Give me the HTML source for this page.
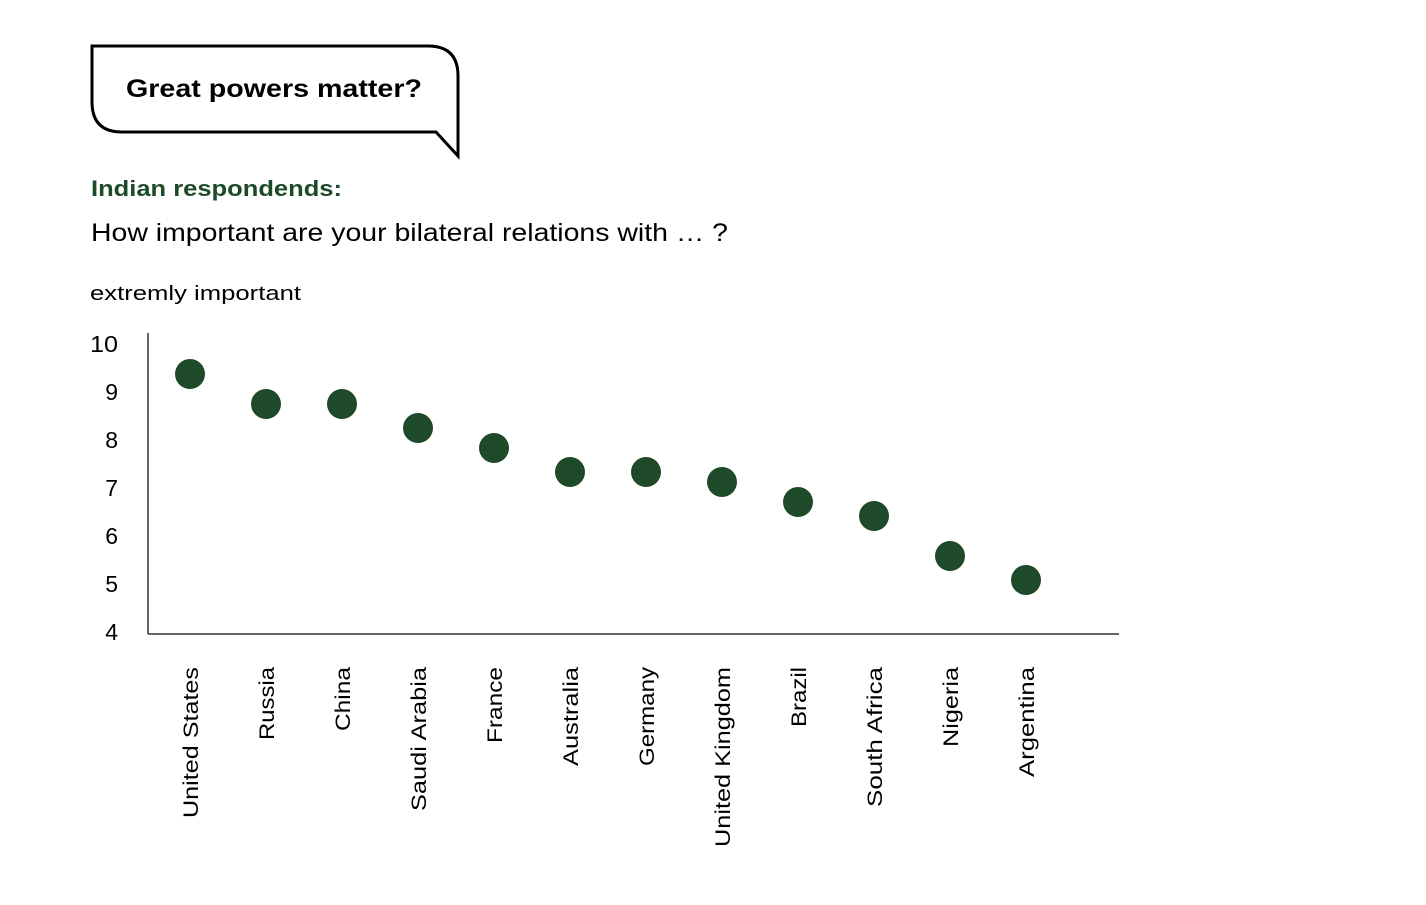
<!DOCTYPE html>
<html><head><style>
body{margin:0;background:#fff;}
svg text{font-family:"Liberation Sans",sans-serif;}
</style></head><body>
<svg width="1426" height="900" xmlns="http://www.w3.org/2000/svg">
<path d="M92,46 L428,46 Q458,46 458,76 L458,156 L436,132 L122,132 Q92,132 92,102 Z" fill="#fff" stroke="#000" stroke-width="3"/>
<text x="126" y="97" font-size="25" font-weight="bold" textLength="296" lengthAdjust="spacingAndGlyphs">Great powers matter?</text>
<text x="91" y="196" font-size="22" font-weight="bold" fill="#1e4a2a" textLength="251" lengthAdjust="spacingAndGlyphs">Indian respondends:</text>
<text x="91" y="241" font-size="25" textLength="637" lengthAdjust="spacingAndGlyphs">How important are your bilateral relations with … ?</text>
<text x="90" y="300" font-size="20" textLength="211" lengthAdjust="spacingAndGlyphs">extremly important</text>
<g stroke="#333" stroke-width="1.5"><line x1="148" y1="333" x2="148" y2="634"/><line x1="148" y1="634" x2="1119" y2="634"/></g>
<g font-size="23" text-anchor="end">
<text x="118" y="352" textLength="28" lengthAdjust="spacingAndGlyphs">10</text><text x="118" y="400">9</text><text x="118" y="448">8</text><text x="118" y="496">7</text><text x="118" y="544">6</text><text x="118" y="592">5</text><text x="118" y="640">4</text>
</g>
<g fill="#1e4a2a">
<circle cx="190" cy="374" r="15"/><circle cx="266" cy="404" r="15"/><circle cx="342" cy="404" r="15"/><circle cx="418" cy="428" r="15"/><circle cx="494" cy="448" r="15"/><circle cx="570" cy="472" r="15"/><circle cx="646" cy="472" r="15"/><circle cx="722" cy="482" r="15"/><circle cx="798" cy="502" r="15"/><circle cx="874" cy="516" r="15"/><circle cx="950" cy="556" r="15"/><circle cx="1026" cy="580" r="15"/>
</g>
<g font-size="21" text-anchor="end" lengthAdjust="spacingAndGlyphs">
<text transform="translate(198,667) rotate(-90)" textLength="151" lengthAdjust="spacingAndGlyphs">United States</text>
<text transform="translate(274,667) rotate(-90)" textLength="73" lengthAdjust="spacingAndGlyphs">Russia</text>
<text transform="translate(350,667) rotate(-90)" textLength="64" lengthAdjust="spacingAndGlyphs">China</text>
<text transform="translate(426,667) rotate(-90)" textLength="144" lengthAdjust="spacingAndGlyphs">Saudi Arabia</text>
<text transform="translate(502,667) rotate(-90)" textLength="76" lengthAdjust="spacingAndGlyphs">France</text>
<text transform="translate(578,667) rotate(-90)" textLength="99" lengthAdjust="spacingAndGlyphs">Australia</text>
<text transform="translate(654,667) rotate(-90)" textLength="99" lengthAdjust="spacingAndGlyphs">Germany</text>
<text transform="translate(730,667) rotate(-90)" textLength="180" lengthAdjust="spacingAndGlyphs">United Kingdom</text>
<text transform="translate(806,667) rotate(-90)" textLength="60" lengthAdjust="spacingAndGlyphs">Brazil</text>
<text transform="translate(882,667) rotate(-90)" textLength="140" lengthAdjust="spacingAndGlyphs">South Africa</text>
<text transform="translate(958,667) rotate(-90)" textLength="80" lengthAdjust="spacingAndGlyphs">Nigeria</text>
<text transform="translate(1034,667) rotate(-90)" textLength="110" lengthAdjust="spacingAndGlyphs">Argentina</text>
</g>
</svg>
</body></html>
